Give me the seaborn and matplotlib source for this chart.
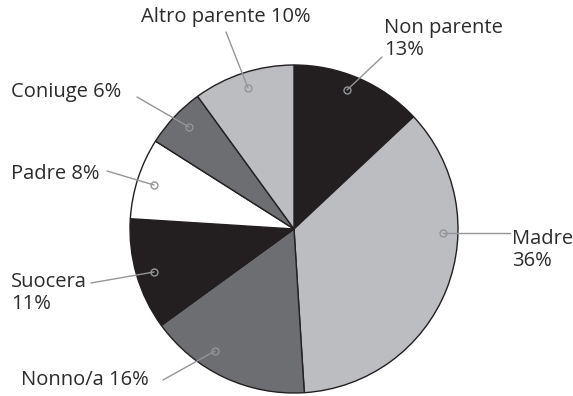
import matplotlib
matplotlib.use("Agg")
import matplotlib.pyplot as plt
import seaborn as sns

# Share of caregivers by relationship
categories = ["Non parente", "Madre", "Nonno/a", "Suocera", "Padre", "Coniuge", "Altro parente"]
values = [13, 36, 16, 11, 8, 6, 10]
labels = ["Non parente\n13%", "Madre\n36%", "Nonno/a 16%", "Suocera\n11%",
          "Padre 8%", "Coniuge 6%", "Altro parente 10%"]

BLACK = "#231f20"
LIGHT = "#bcbdc0"
DARK = "#6d6e71"
WHITE = "#ffffff"
colors = [BLACK, LIGHT, DARK, BLACK, WHITE, DARK, LIGHT]

sns.set_theme(style="white")
plt.rcParams["font.family"] = ["Open Sans", "DejaVu Sans"]

W, H = 573, 396
fig = plt.figure(figsize=(W / 100, H / 100), dpi=100)
ax = fig.add_axes([0, 0, 1, 1])
ax.set_xlim(0, W)
ax.set_ylim(0, H)
ax.set_aspect("equal")
ax.axis("off")


def px(x, y):
    """Pixel position (origin top-left) to data coordinates."""
    return x, H - y


cx, cy = px(294, 229)
ax.pie(values, colors=colors, startangle=90, counterclock=False,
       center=(cx, cy), radius=164,
       wedgeprops=dict(edgecolor=BLACK, linewidth=1.0))
ax.set_xlim(0, W)
ax.set_ylim(0, H)

# label: (marker point, line end, text anchor, ha, va)
layout = {
    "Non parente": ((347, 90), (382, 57), (384, 39), "left", "center"),
    "Madre": ((443, 233), (510, 233), (512, 250), "left", "center"),
    "Nonno/a": ((215, 351), (163, 380), (21, 380), "left", "center"),
    "Suocera": ((154, 272), (91, 283), (11, 293), "left", "center"),
    "Padre": ((154, 185), (107, 171), (11, 174), "left", "center"),
    "Coniuge": ((189, 127), (137, 97), (11, 92), "left", "center"),
    "Altro parente": ((248, 88), (226, 32), (226, 17), "center", "center"),
}

for cat, lab in zip(categories, labels):
    mk, end, tpos, ha, va = layout[cat]
    x0, y0 = px(*mk)
    x1, y1 = px(*end)
    ax.plot([x0, x1], [y0, y1], color="#939598", lw=1.0, zorder=3)
    ax.plot([x0], [y0], marker="o", ms=5, mfc="none", mec="#939598",
            mew=1.0, zorder=4)
    tx, ty = px(*tpos)
    ax.text(tx, ty, lab, ha=ha, va=va, fontsize=14.5, color="#2b2b2b",
            linespacing=1.15)

fig.savefig("out.png", dpi=100)
